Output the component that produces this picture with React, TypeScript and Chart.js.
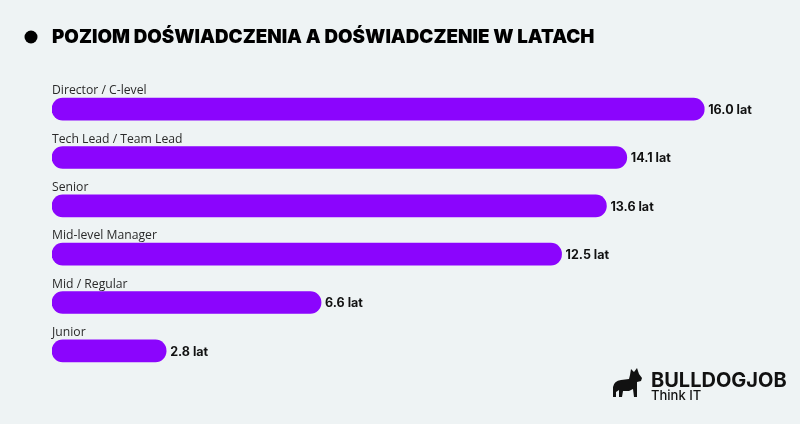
import React, { useEffect, useRef } from "react";
import { Chart, registerables } from "chart.js";

Chart.register(...registerables);

const TITLE = "POZIOM DOŚWIADCZENIA A DOŚWIADCZENIE W LATACH";
const categories = [
  "Director / C-level",
  "Tech Lead / Team Lead",
  "Senior",
  "Mid-level Manager",
  "Mid / Regular",
  "Junior",
];
const years = [16.0, 14.1, 13.6, 12.5, 6.6, 2.8];
const UNIT = "lat";

const BG = "#eef3f4";
const BAR = "#8b05fd";

const decorPlugin = {
  id: "decor",
  beforeDraw(chart: any) {
    const ctx = chart.ctx;
    ctx.save();
    ctx.fillStyle = BG;
    ctx.fillRect(0, 0, chart.width, chart.height);
    ctx.restore();
  },
  afterDatasetsDraw(chart: any) {
    const ctx = chart.ctx;
    const meta = chart.getDatasetMeta(0);
    ctx.save();
    // title
    ctx.fillStyle = "#000";
    ctx.beginPath();
    ctx.arc(31, 37, 6.5, 0, Math.PI * 2);
    ctx.fill();
    ctx.font = "900 18.8px Inter";
    ctx.textBaseline = "middle";
    ctx.textAlign = "left";
    ctx.fillText(TITLE, 52, 37);

    // category labels and values
    meta.data.forEach((bar: any, i: number) => {
      const top = bar.y - bar.height / 2;
      ctx.font = "400 12.2px 'Open Sans'";
      ctx.fillStyle = "#2a2a2a";
      ctx.textBaseline = "alphabetic";
      ctx.fillText(categories[i], bar.base, top - 4);
      ctx.font = "700 12.5px Inter";
      ctx.fillStyle = "#111";
      ctx.textBaseline = "middle";
      ctx.fillText(years[i].toFixed(1) + " " + UNIT, bar.x + 4, bar.y + 1);
    });

    // logo
    ctx.fillStyle = "#111";
    ctx.beginPath();
    ctx.moveTo(631, 369);
    ctx.lineTo(634, 372);
    ctx.lineTo(637, 368);
    ctx.lineTo(639, 374);
    ctx.lineTo(642, 378);
    ctx.lineTo(641, 381);
    ctx.lineTo(637, 382);
    ctx.lineTo(637, 397);
    ctx.lineTo(634, 397);
    ctx.lineTo(633, 389);
    ctx.lineTo(629, 391);
    ctx.lineTo(623, 391);
    ctx.lineTo(622, 397);
    ctx.lineTo(619, 397);
    ctx.lineTo(619, 390);
    ctx.lineTo(616, 392);
    ctx.lineTo(616, 397);
    ctx.lineTo(613, 397);
    ctx.lineTo(613, 387);
    ctx.quadraticCurveTo(614, 381, 621, 380);
    ctx.lineTo(629, 379);
    ctx.lineTo(630, 375);
    ctx.closePath();
    ctx.fill();
    ctx.font = "700 20px Inter";
    ctx.textBaseline = "alphabetic";
    ctx.fillText("BULLDOGJOB", 651, 387);
    ctx.font = "500 13px Inter";
    ctx.fillText("Think IT", 651, 400);
    ctx.restore();
  },
};

export default function App() {
  const ref = useRef<HTMLCanvasElement>(null);
  useEffect(() => {
    if (!ref.current) return;
    const chart = new Chart(ref.current, {
      type: "bar",
      data: {
        labels: categories,
        datasets: [
          {
            data: years,
            backgroundColor: BAR,
            barThickness: 22,
            borderRadius: 11,
            borderSkipped: false,
          },
        ],
      },
      options: {
        indexAxis: "y",
        animation: false,
        responsive: false,
        maintainAspectRatio: false,
        layout: { padding: { left: 52, right: 55, top: 85, bottom: 49 } },
        scales: {
          x: { display: false, min: 0, max: 17 },
          y: { display: false },
        },
        plugins: {
          legend: { display: false },
          tooltip: { enabled: false },
        },
      },
      plugins: [decorPlugin],
    });
    return () => chart.destroy();
  }, []);
  return (
    <div style={{ position: "absolute", left: 0, top: 0, width: 800, height: 424, background: BG }}>
      <canvas ref={ref} width={800} height={424} style={{ width: 800, height: 424 }} />
    </div>
  );
}
